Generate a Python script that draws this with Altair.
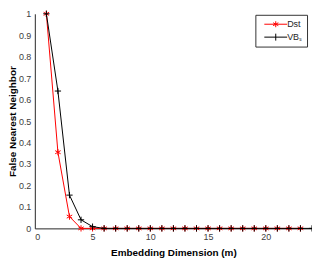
import altair as alt
import pandas as pd

m_dst = list(range(1, 24))
dst = [1.0, 0.355, 0.055] + [0.0] * 20
m_vbs = list(range(1, 25))
vbs = [1.0, 0.64, 0.155, 0.04, 0.008] + [0.0] * 19
series = ["Dst", "VBₛ"]
x_ticks = [0, 5, 10, 15, 20]
y_ticks = [round(i * 0.1, 1) for i in range(11)]

df_dst = pd.DataFrame({"m": m_dst, "v": dst, "series": "Dst"})
df_vbs = pd.DataFrame({"m": m_vbs, "v": vbs, "series": "VBₛ"})
df_all = pd.concat([df_dst, df_vbs])

RED = "#ff0000"
BLACK = "#000000"
AST = "M0,-1L0,1M-0.87,-0.5L0.87,0.5M-0.87,0.5L0.87,-0.5"
PLUS = "M-1,0L1,0M0,-1L0,1"
LEG_AST = "M-2.3,0L2.3,0M0,-0.6L0,0.6M-0.52,-0.3L0.52,0.3M-0.52,0.3L0.52,-0.3"
LEG_PLUS = "M-2.3,0L2.3,0M0,-0.7L0,0.7"

W, H = 279, 216
xs = alt.Scale(domain=[0, 24], nice=False)
ys = alt.Scale(domain=[0, 1], nice=False)
xenc = alt.X("m:Q", scale=xs, axis=alt.Axis(values=x_ticks, title="Embedding Dimension (m)",
                                            titleY=27, titleBaseline="alphabetic"))
yenc = alt.Y("v:Q", scale=ys, axis=alt.Axis(values=y_ticks, format=".1~f", title="False Nearest Neighbor",
                                            titleX=-22, titleY=H / 2, titleBaseline="middle",
                                            titleAlign="center", titleAngle=270))

def line(df, c):
    return alt.Chart(df).mark_line(color=c, strokeWidth=1).encode(x=xenc, y=yenc)

def pts(df, c, shp):
    return alt.Chart(df).mark_point(color=c, shape=shp, filled=False, size=40, strokeWidth=1, opacity=1).encode(x=xenc, y=yenc)

legend_layer = alt.Chart(df_all).transform_filter("datum.m < 0").mark_point(filled=False, opacity=1, strokeWidth=1).encode(
    x=xenc, y=yenc,
    color=alt.Color("series:N", scale=alt.Scale(domain=series, range=[RED, BLACK]),
                    legend=alt.Legend(title=None, orient="none", legendX=222, legendY=1,
                                      strokeColor="#333333", fillColor="white", padding=4,
                                      symbolSize=100, symbolStrokeWidth=1, symbolOffset=11,
                                      labelFontSize=9, labelFont="Liberation Sans", labelColor="#262626",
                                      labelOffset=6, rowPadding=2)),
    shape=alt.Shape("series:N", scale=alt.Scale(domain=series, range=[LEG_AST, LEG_PLUS])),
)

chart = alt.layer(
    line(df_dst, RED), pts(df_dst, RED, AST),
    line(df_vbs, BLACK), pts(df_vbs, BLACK, PLUS),
    legend_layer,
).properties(
    width=W, height=H,
    autosize=alt.AutoSizeParams(type="none"),
    padding={"left": 27, "top": 5, "right": 0, "bottom": 32},
).configure_view(stroke=None).configure_axis(
    grid=False, ticks=False, domainColor="#262626", domainWidth=1,
    labelFont="Liberation Sans", labelFontSize=9, labelColor="#404040", labelPadding=4,
    titleFont="Liberation Sans", titleFontSize=10, titleFontWeight="bold", titleColor="#000000",
)

chart.save("out.html", embed_options={"renderer": "svg", "actions": False})
